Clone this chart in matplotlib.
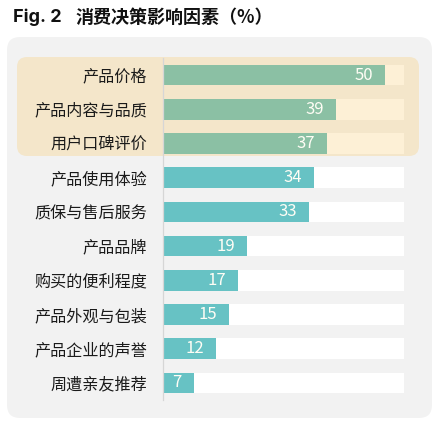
import matplotlib.pyplot as plt
from matplotlib.patches import FancyBboxPatch

plt.rcParams['font.family'] = ['Noto Sans CJK SC', 'DejaVu Sans']

# data, top row first
factors = ['产品价格', '产品内容与品质', '用户口碑评价', '产品使用体验', '质保与售后服务',
           '产品品牌', '购买的便利程度', '产品外观与包装', '产品企业的声誉', '周遭亲友推荐']
shares = [50, 39, 37, 34, 33, 19, 17, 15, 12, 7]
n_top = 3          # first three rows are highlighted
track_max = 54.3

green = '#8BC0A4'
teal = '#67C2C4'
cream = '#FDF0D6'
beige = '#F4E6CA'
panel = '#F2F2F2'

fig = plt.figure(figsize=(4.4, 4.26), dpi=100)
fig.patch.set_facecolor('white')

# grey rounded panel and beige highlight, positioned in inches
fig.patches.append(FancyBboxPatch((0.07, 0.08), 4.25, 3.81,
                                  boxstyle='round,pad=0,rounding_size=0.13',
                                  transform=fig.dpi_scale_trans, facecolor=panel,
                                  edgecolor='none', zorder=-10))
fig.patches.append(FancyBboxPatch((0.17, 2.70), 4.02, 0.99,
                                  boxstyle='round,pad=0,rounding_size=0.10',
                                  transform=fig.dpi_scale_trans, facecolor=beige,
                                  edgecolor='none', zorder=-9))

# title in two pieces: latin part and chinese part
fig.text(13 / 440, 1 - 17 / 426, 'Fig. 2', fontsize=13, fontweight='bold',
         family=['Inter', 'DejaVu Sans'], color='#111111', va='center', ha='left')
fig.text(75 / 440, 1 - 17 / 426, '消费决策影响因素（%）', fontsize=13,
         fontweight='bold', color='#111111', va='center', ha='left')

ax = fig.add_axes([162.5 / 440, 26 / 426, 241.5 / 440, 342 / 426])
ax.set_facecolor('none')

ypos = list(range(len(factors)))
track_colors = [cream if i < n_top else 'white' for i in ypos]
bar_colors = [green if i < n_top else teal for i in ypos]

ax.barh(ypos, [track_max] * len(ypos), height=0.6, color=track_colors, zorder=1)
ax.barh(ypos, shares, height=0.6, color=bar_colors, zorder=2)

for i, v in enumerate(shares):
    ax.annotate(str(v), (v, i), xytext=(-12, 0), textcoords='offset pixels',
                ha='right', va='center', fontsize=12, color='#FFFDF5', zorder=3)

ax.set_xlim(0, track_max)
ax.set_ylim(len(factors) - 0.5, -0.5)
ax.set_yticks(ypos)
ax.set_yticklabels(factors, fontsize=11.6, color='#1A1A1A')
ax.tick_params(axis='y', length=0, pad=11)
ax.set_xticks([])
for side in ['top', 'right', 'bottom']:
    ax.spines[side].set_visible(False)
ax.spines['left'].set_color('#D6D6D6')
ax.spines['left'].set_linewidth(0.9)

fig.savefig('out.png', dpi=100)
